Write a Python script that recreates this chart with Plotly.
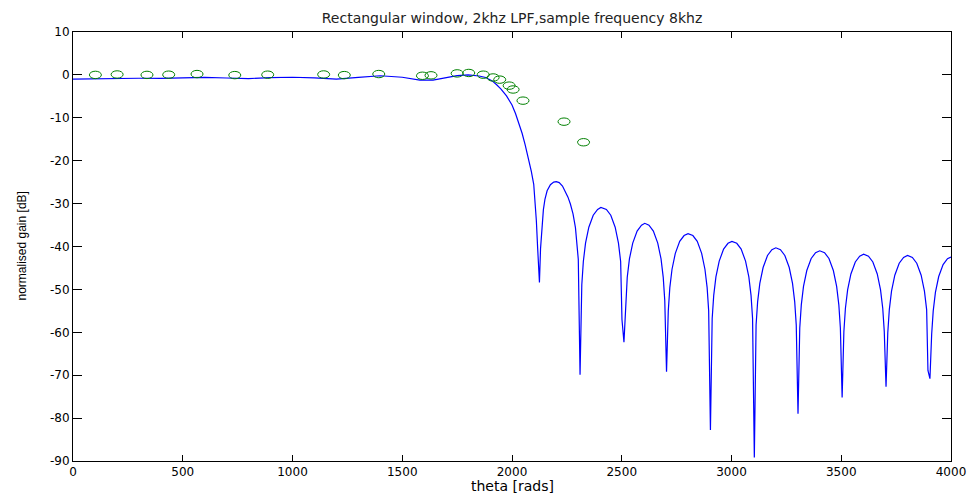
import plotly.graph_objects as go

# Magnitude response of the rectangular-window FIR low-pass filter (Hz, dB)
theta_hz = [
    0, 50, 100, 150, 200, 300, 400, 500, 600, 700, 800, 900, 1000, 1100, 1200,
    1300, 1400, 1500, 1580, 1640, 1700, 1750, 1800, 1850, 1880, 1910, 1930, 1950,
    1975, 2000, 2016, 2030, 2046, 2060, 2076, 2088, 2099, 2106, 2111, 2117, 2121,
    2125,
    2130, 2137, 2143, 2150, 2160, 2175, 2190, 2202, 2215, 2230, 2243, 2255, 2266,
    2278, 2289, 2297, 2302, 2310,
    2318, 2325, 2335, 2350, 2370, 2390, 2405, 2430, 2450, 2470, 2485, 2495, 2501, 2510,
    2518, 2525, 2535, 2550, 2570, 2590, 2605, 2624, 2644, 2664, 2679, 2689, 2696, 2704,
    2712, 2719, 2729, 2744, 2764, 2784, 2802, 2824, 2844, 2864, 2879, 2889, 2896, 2904,
    2912, 2919, 2929, 2944, 2964, 2984, 3002, 3024, 3044, 3064, 3079, 3089, 3096, 3104,
    3112, 3119, 3129, 3144, 3164, 3184, 3202, 3223, 3243, 3263, 3278, 3288, 3295, 3303,
    3311, 3318, 3328, 3343, 3363, 3383, 3402, 3424, 3444, 3464, 3479, 3489, 3496, 3504,
    3512, 3519, 3529, 3544, 3564, 3584, 3602, 3624, 3644, 3664, 3679, 3689, 3696, 3704,
    3712, 3719, 3729, 3744, 3764, 3784, 3802, 3824, 3844, 3864, 3879, 3889, 3895, 3904,
    3912, 3919, 3929, 3944, 3964, 3984, 4000,
]
gain_db = [
    -1.0, -0.95, -0.9, -0.85, -0.8, -0.78, -0.8, -0.7, -0.6, -0.72, -0.85, -0.65,
    -0.55, -0.7, -1.0, -0.6, -0.2, -0.55, -1.2, -1.2, -0.7, -0.15, 0.0, -0.25, -0.6,
    -1.4, -2.3, -3.3, -4.9, -7.0, -9.0, -11.0, -13.6, -16.3, -19.6, -22.5, -25.5,
    -29.5, -34.0, -40.5, -44.5, -48.4,
    -40.5, -34.6, -31.4, -29.0, -27.0, -25.6, -25.0, -24.9, -25.1, -25.9, -27.1,
    -28.5, -30.1, -32.4, -35.6, -39.6, -43.0, -69.9,
    -48.9, -43.5, -39.2, -35.5, -32.7, -31.35, -30.9, -31.35, -32.7, -35.5, -39.2,
    -43.5, -57.0, -62.3,
    -52.6, -47.2, -42.9, -39.2, -36.4, -35.05, -34.6, -35.05, -36.4, -39.2, -42.9,
    -47.2, -52.6, -69.2,
    -55.0, -49.6, -45.3, -41.6, -38.8, -37.45, -37.0, -37.45, -38.8, -41.6, -45.3,
    -49.6, -55.0, -82.8,
    -56.8, -51.4, -47.1, -43.4, -40.6, -39.25, -38.8, -39.25, -40.6, -43.4, -47.1,
    -51.4, -56.8, -89.2,
    -58.3, -52.9, -48.6, -44.9, -42.1, -40.75, -40.3, -40.75, -42.1, -44.9, -48.6,
    -52.9, -58.3, -79.0,
    -59.0, -53.6, -49.3, -45.6, -42.8, -41.45, -41.0, -41.45, -42.8, -45.6, -49.3,
    -53.6, -59.0, -75.2,
    -59.8, -54.4, -50.1, -46.4, -43.6, -42.25, -41.8, -42.25, -43.6, -46.4, -50.1,
    -54.4, -59.8, -72.7,
    -60.1, -54.7, -50.4, -46.7, -43.9, -42.55, -42.1, -42.55, -43.9, -46.7, -50.4,
    -54.7, -68.9, -70.8,
    -60.4, -55.0, -50.7, -47.0, -44.2, -42.85, -42.45,
]

# Measured gain at individual test frequencies
sample_theta = [102, 201, 337, 436, 565, 737, 887, 1142, 1236, 1393, 1592, 1631,
                1750, 1803, 1869, 1914, 1944, 1987, 2005, 2050, 2237, 2326]
sample_gain = [0.0, 0.1, 0.0, 0.05, 0.2, -0.05, 0.05, 0.1, -0.05, 0.2, -0.2, -0.1,
               0.35, 0.45, 0.05, -0.6, -1.1, -2.5, -3.4, -6.0, -10.9, -15.7]

x_ticks = [0, 500, 1000, 1500, 2000, 2500, 3000, 3500, 4000]
y_ticks = [10, 0, -10, -20, -30, -40, -50, -60, -70, -80, -90]

fig = go.Figure()
fig.add_trace(go.Scatter(
    x=theta_hz, y=gain_db, mode="lines",
    line=dict(color="rgb(0,0,255)", width=1.2),
    showlegend=False,
))

# open ellipse markers, anchored at each measured point
for tx, gy in zip(sample_theta, sample_gain):
    fig.add_shape(
        type="circle", xref="x", yref="y",
        xsizemode="pixel", ysizemode="pixel",
        xanchor=tx, yanchor=gy,
        x0=-6, x1=6, y0=-3.7, y1=3.7,
        line=dict(color="rgb(0,128,0)", width=1),
        fillcolor="rgba(0,0,0,0)",
    )

tick_font = dict(family="DejaVu Sans", size=12, color="black")
fig.update_xaxes(
    range=[0, 4000], tickvals=x_ticks, ticktext=[str(v) for v in x_ticks],
    ticks="inside", ticklen=6, tickcolor="black", tickwidth=1,
    showline=True, linecolor="black", linewidth=1, mirror="ticks",
    showgrid=False, zeroline=False, tickfont=tick_font, automargin=False,
)
fig.update_yaxes(
    range=[-90, 10], tickvals=y_ticks, ticktext=[str(v) for v in y_ticks],
    ticks="inside", ticklen=9, tickcolor="black", tickwidth=1,
    showline=True, linecolor="black", linewidth=1, mirror="ticks",
    showgrid=False, zeroline=False, tickfont=tick_font, automargin=False,
)

fig.update_layout(
    width=974, height=495,
    margin=dict(l=73, r=23, t=32, b=34, autoexpand=False),
    paper_bgcolor="white", plot_bgcolor="white",
    title=dict(
        text="Rectangular window, 2khz LPF,sample frequency 8khz",
        font=dict(family="DejaVu Sans", size=14, color="#222"),
        x=0.5, xref="paper", xanchor="center",
        y=1 - 18 / 495, yref="container", yanchor="middle",
    ),
    annotations=[
        dict(text="theta [rads]", xref="paper", yref="paper",
             x=0.5, y=-25 / 429, xanchor="center", yanchor="middle",
             showarrow=False, font=dict(family="DejaVu Sans", size=14, color="black")),
        dict(text="normalised gain [dB]", xref="paper", yref="paper",
             x=-52 / 878, y=0.5, xanchor="center", yanchor="middle", textangle=-90,
             showarrow=False, font=dict(family="Liberation Sans", size=12, color="black")),
    ],
)

fig.write_html("out.html")
